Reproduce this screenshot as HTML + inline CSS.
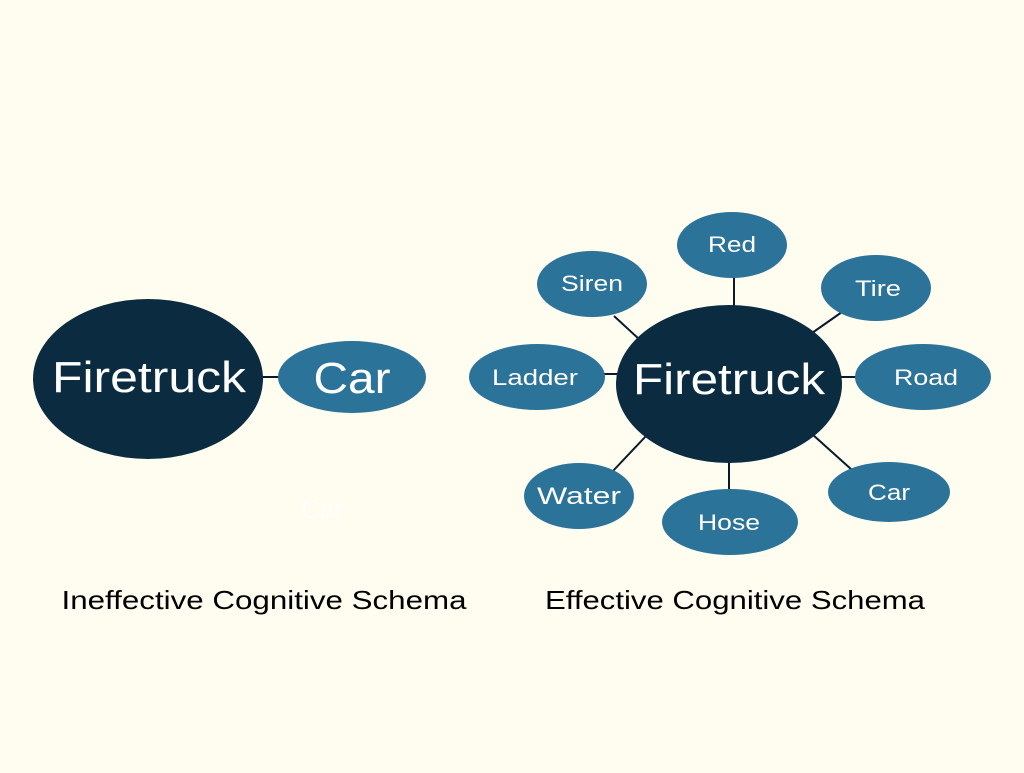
<!DOCTYPE html>
<html><head><style>html,body{margin:0;padding:0;background:#fffdf0}</style></head><body>
<svg width="1024" height="768" xmlns="http://www.w3.org/2000/svg" font-family="Liberation Sans, sans-serif">
<rect width="1024" height="768" fill="#fffdf0"/>
<g stroke="#0a1a2e" stroke-width="2">
<line x1="260" y1="377" x2="282" y2="377"/>
<line x1="734" y1="276" x2="734" y2="310"/>
<line x1="614" y1="316" x2="640" y2="340"/>
<line x1="842" y1="312" x2="812" y2="333"/>
<line x1="604" y1="374" x2="620" y2="374"/>
<line x1="840" y1="377" x2="858" y2="377"/>
<line x1="612" y1="472" x2="646" y2="436"/>
<line x1="729" y1="460" x2="729" y2="492"/>
<line x1="812" y1="434" x2="852" y2="470"/>
</g>
<g fill="#2c7399">
<ellipse cx="352" cy="377" rx="74" ry="36"/>
<ellipse cx="732" cy="245" rx="55" ry="33"/>
<ellipse cx="592" cy="284" rx="55" ry="33"/>
<ellipse cx="876" cy="288" rx="55" ry="33"/>
<ellipse cx="537" cy="377" rx="68" ry="33"/>
<ellipse cx="923" cy="377" rx="68" ry="33"/>
<ellipse cx="579" cy="496" rx="55" ry="33"/>
<ellipse cx="730" cy="522" rx="68" ry="33"/>
<ellipse cx="889" cy="492" rx="61" ry="30"/>
</g>
<g fill="#0a2b40">
<ellipse cx="148" cy="379" rx="115" ry="80"/>
<ellipse cx="729" cy="384" rx="113" ry="79"/>
</g>
<g fill="#fff" text-anchor="middle" lengthAdjust="spacingAndGlyphs">
<text x="149" y="392" font-size="44" textLength="194" lengthAdjust="spacingAndGlyphs">Firetruck</text>
<text x="352" y="393" font-size="44" textLength="77" lengthAdjust="spacingAndGlyphs">Car</text>
<text x="729" y="394" font-size="44" textLength="192" lengthAdjust="spacingAndGlyphs">Firetruck</text>
<text x="732" y="252" font-size="22" textLength="48" lengthAdjust="spacingAndGlyphs">Red</text>
<text x="592" y="291" font-size="22" textLength="62" lengthAdjust="spacingAndGlyphs">Siren</text>
<text x="878" y="296" font-size="22" textLength="46" lengthAdjust="spacingAndGlyphs">Tire</text>
<text x="535" y="385" font-size="22" textLength="86" lengthAdjust="spacingAndGlyphs">Ladder</text>
<text x="926" y="385" font-size="22" textLength="64" lengthAdjust="spacingAndGlyphs">Road</text>
<text x="579" y="504" font-size="24" textLength="84" lengthAdjust="spacingAndGlyphs">Water</text>
<text x="729" y="530" font-size="22" textLength="62" lengthAdjust="spacingAndGlyphs">Hose</text>
<text x="889" y="500" font-size="22" textLength="42" lengthAdjust="spacingAndGlyphs">Car</text>
<text x="322" y="518" font-size="26" opacity="0.9">Car</text>
</g>
<g fill="#000" text-anchor="middle" font-size="26">
<text x="264" y="609" textLength="405" lengthAdjust="spacingAndGlyphs">Ineffective Cognitive Schema</text>
<text x="735" y="609" textLength="380" lengthAdjust="spacingAndGlyphs">Effective Cognitive Schema</text>
</g>
</svg>
</body></html>
